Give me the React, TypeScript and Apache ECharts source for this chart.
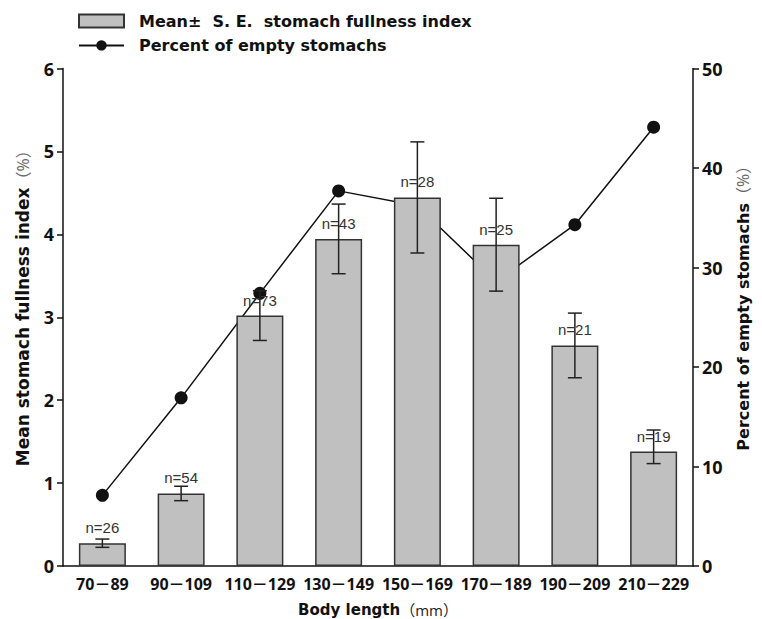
import React, { useEffect, useRef } from "react";
import * as echarts from "echarts";

const categories = ["70－89", "90－109", "110－129", "130－149", "150－169", "170－189", "190－209", "210－229"];
const meanFullness = [0.275, 0.875, 3.02, 3.945, 4.445, 3.875, 2.66, 1.38];
const errUpper = [0.05, 0.087, 0.3, 0.42, 0.67, 0.56, 0.39, 0.26];
const errLower = [0.05, 0.087, 0.3, 0.42, 0.67, 0.56, 0.39, 0.145];
const sampleSizes = [26, 54, 73, 43, 28, 25, 21, 19];
const emptyPercent = [7.1, 16.9, 27.4, 37.7, 36.2, 28.6, 34.3, 44.1];
const leftTicks = { min: 0, max: 6, interval: 1 };
const rightTicks = { min: 0, max: 50, interval: 10 };

const BAR_NAME = "Mean±  S. E.  stomach fullness index";
const LINE_NAME = "Percent of empty stomachs";

const NUM_FONT = "'Open Sans', 'Noto Sans CJK SC', sans-serif";
const TXT_FONT = "'DejaVu Sans', 'Noto Sans CJK SC', sans-serif";

export default function App() {
  const ref = useRef<HTMLDivElement>(null);
  useEffect(() => {
    if (!ref.current) return;
    const chart = echarts.init(ref.current, null, { renderer: "svg" });
    const errData = categories.map((_, i) => [i, meanFullness[i] + errUpper[i], meanFullness[i] - errLower[i]]);
    const pct = { fontFamily: NUM_FONT, fontSize: 16, color: "#666", fontWeight: "normal" };
    chart.setOption({
      animation: false,
      backgroundColor: "#ffffff",
      legend: {
        orient: "vertical",
        left: 73,
        top: 7,
        itemWidth: 45,
        itemHeight: 13,
        itemGap: 6.4,
        textStyle: {
          fontFamily: TXT_FONT, fontWeight: "bold", fontSize: 16, lineHeight: 18,
          color: "#111", padding: [0, 0, 0, 10],
        },
        data: [{ name: BAR_NAME, icon: "rect" }, { name: LINE_NAME }],
      },
      grid: { left: 63, right: 69, top: 68.5, bottom: 53, containLabel: false, outerBoundsMode: "none" },
      xAxis: {
        type: "category",
        data: categories,
        name: "Body length{p|（mm）}",
        nameLocation: "middle",
        nameGap: 36,
        nameTextStyle: {
          fontFamily: TXT_FONT, fontWeight: "bold", fontSize: 15, color: "#111",
          rich: { p: { ...pct, fontSize: 15, color: "#222" } },
        },
        axisLine: { lineStyle: { color: "#111", width: 1.5 } },
        axisTick: { alignWithLabel: true, length: 6, lineStyle: { color: "#111", width: 1.5 } },
        axisLabel: { interval: 0, margin: 10, fontFamily: NUM_FONT, fontWeight: "bold", fontSize: 16, color: "#111" },
      },
      yAxis: [
        {
          type: "value",
          ...leftTicks,
          name: "Mean stomach fullness index{p|（%）}",
          nameLocation: "middle",
          nameGap: 32,
          nameTextStyle: {
            fontFamily: TXT_FONT, fontWeight: "bold", fontSize: 17, color: "#111",
            padding: [0, 0, 0, 26],
            rich: { p: pct },
          },
          splitLine: { show: false },
          axisLine: { show: true, lineStyle: { color: "#111", width: 1.5 } },
          axisTick: { show: true, length: 6, lineStyle: { color: "#111", width: 1.5 } },
          axisLabel: { margin: 9, fontFamily: NUM_FONT, fontWeight: "bold", fontSize: 18, color: "#111" },
        },
        {
          type: "value",
          position: "right",
          ...rightTicks,
          name: "Percent of empty stomachs{p|（%）}",
          nameLocation: "middle",
          nameGap: 42,
          nameRotate: 90,
          nameTextStyle: {
            fontFamily: TXT_FONT, fontWeight: "bold", fontSize: 16, color: "#111",
            padding: [0, 0, 0, 26],
            rich: { p: pct },
          },
          splitLine: { show: false },
          axisLine: { show: true, lineStyle: { color: "#111", width: 1.5 } },
          axisTick: { show: true, length: 6, lineStyle: { color: "#111", width: 1.5 } },
          axisLabel: { margin: 9, fontFamily: NUM_FONT, fontWeight: "bold", fontSize: 18, color: "#111" },
        },
      ],
      series: [
        {
          name: LINE_NAME,
          type: "line",
          yAxisIndex: 1,
          data: emptyPercent,
          z: 1,
          symbol: "circle",
          symbolSize: 13,
          lineStyle: { color: "#111", width: 1.5 },
          itemStyle: { color: "#111" },
        },
        {
          name: BAR_NAME,
          type: "bar",
          yAxisIndex: 0,
          data: meanFullness,
          barWidth: 47,
          z: 2,
          itemStyle: { color: "#c0c0c0", borderColor: "#333", borderWidth: 1.5 },
          label: {
            show: true,
            position: "top",
            distance: 8,
            fontFamily: "'Liberation Sans', Arial, sans-serif",
            fontSize: 15,
            color: "#333",
            formatter: (p: any) => "n=" + sampleSizes[p.dataIndex],
          },
        },
        {
          type: "custom",
          yAxisIndex: 0,
          z: 3,
          data: errData,
          encode: { x: 0, y: [1, 2] },
          renderItem: (params: any, api: any) => {
            const hi = api.coord([api.value(0), api.value(1)]);
            const lo = api.coord([api.value(0), api.value(2)]);
            const cap = 7;
            const style = { stroke: "#222", lineWidth: 1.5 };
            return {
              type: "group",
              children: [
                { type: "line", shape: { x1: hi[0], y1: hi[1], x2: lo[0], y2: lo[1] }, style },
                { type: "line", shape: { x1: hi[0] - cap, y1: hi[1], x2: hi[0] + cap, y2: hi[1] }, style },
                { type: "line", shape: { x1: lo[0] - cap, y1: lo[1], x2: lo[0] + cap, y2: lo[1] }, style },
              ],
            };
          },
        },
      ],
    });
    return () => chart.dispose();
  }, []);
  return <div ref={ref} style={{ width: 762, height: 619, position: "absolute", left: 0, top: 0 }} />;
}
